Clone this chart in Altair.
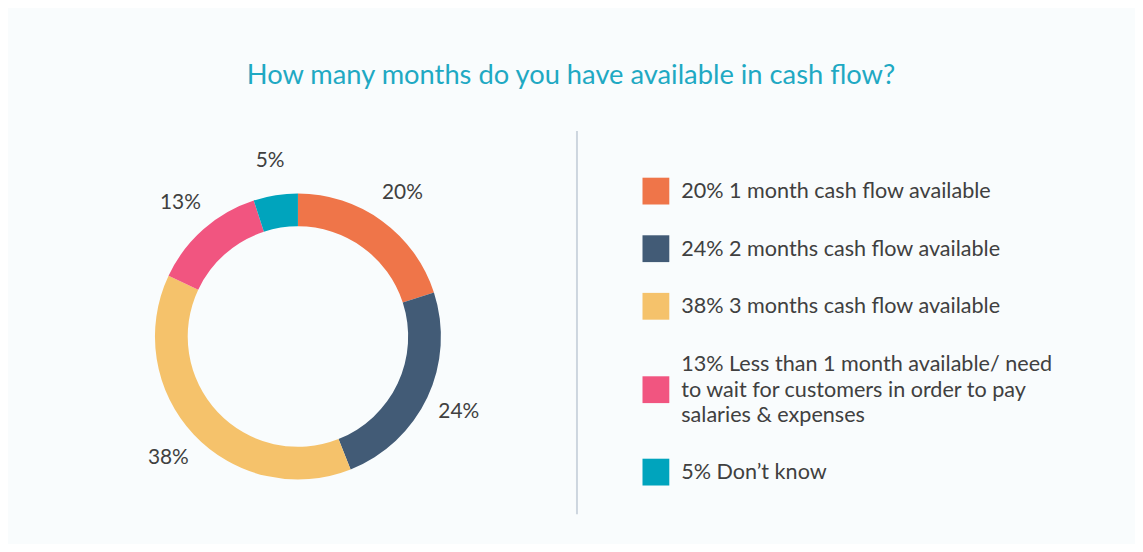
import altair as alt
import pandas as pd

title_text = "How many months do you have available in cash flow?"
categories = [
    "1 month cash flow available",
    "2 months cash flow available",
    "3 months cash flow available",
    "Less than 1 month available/ need\nto wait for customers in order to pay\nsalaries & expenses",
    "Don\u2019t know",
]
values = [20, 24, 38, 13, 5]
colors = ["#EF7549", "#425B76", "#F5C26B", "#F15580", "#00A4BD"]

legend_labels = [f"{v}% {c}" for v, c in zip(values, categories)]
pct_labels = [f"{v}%" for v in values]

df = pd.DataFrame({
    "label": legend_labels,
    "value": values,
    "pct": pct_labels,
    "order": list(range(len(values))),
})

FONT = "Lato"
TEXT_COLOR = "#404040"

# square symbol, moved down one text line for multi-line legend labels
SHIFTED_SQUARE = "M-1,0.926L1,0.926L1,2.926L-1,2.926Z"

divider = alt.Chart(alt.Data(values=[{}])).mark_rule(color="#cdd6df", strokeWidth=2).encode(
    x=alt.value(571), y=alt.value(0), y2=alt.value(386)
)

base = alt.Chart(df)

arcs = base.mark_arc(outerRadius=144, innerRadius=111, stroke=None).encode(
    theta=alt.Theta("value:Q", stack=True),
    order=alt.Order("order:Q"),
    color=alt.Color(
        "label:N",
        scale=alt.Scale(domain=legend_labels, range=colors),
        legend=alt.Legend(
            title=None,
            orient="none",
            direction="vertical",
            legendX=637,
            legendY=47,
            symbolType=alt.ExprRef(
                expr=f"indexof(datum.value, '\\n') >= 0 ? '{SHIFTED_SQUARE}' : 'square'"
            ),
            symbolSize=729,
            symbolStrokeWidth=0,
            symbolOpacity=1,
            labelFont=FONT,
            labelFontSize=21.75,
            labelColor=TEXT_COLOR,
            labelLimit=700,
            labelOffset=12,
            rowPadding=31,
            labelExpr="split(datum.label, '\\n')",
        ),
    ),
)

texts = base.mark_text(radius=179, font=FONT, fontSize=21, color=TEXT_COLOR).encode(
    theta=alt.Theta("value:Q", stack=True),
    order=alt.Order("order:Q"),
    detail="label:N",
    text="pct:N",
)

chart = alt.layer(divider, arcs, texts).properties(
    width=580,
    height=414,
    autosize="none",
    padding={"left": 2, "top": 122, "right": 553, "bottom": 0},
    background="#f9fcfd",
    title=alt.TitleParams(
        text=title_text,
        anchor="start",
        align="center",
        frame="group",
        dx=565,
        offset=27,
        baseline="middle",
        font=FONT,
        fontSize=27.5,
        fontWeight="normal",
        color="#1fa9c3",
    ),
).configure(
    view=alt.ViewConfig(stroke=None),
    style={"guide-label": {"lineHeight": 26}},
)

chart.save("out.html", embed_options={"renderer": "svg", "actions": False})
